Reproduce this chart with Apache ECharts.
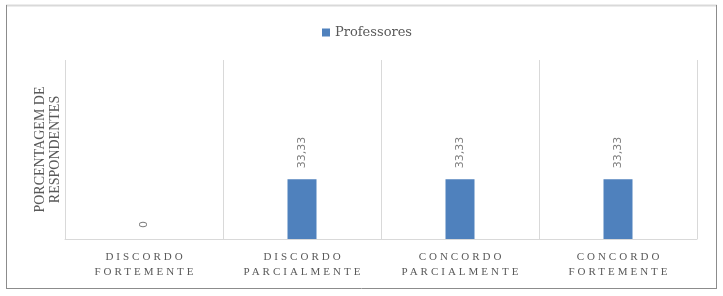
<!DOCTYPE html>
<html>
<head>
<meta charset="utf-8">
<script src="https://cdn.jsdelivr.net/npm/echarts@6/dist/echarts.min.js"></script>
<style>html,body{margin:0;padding:0;background:#fff}#c{width:723px;height:296px}</style>
</head>
<body>
<div id="c"></div>
<script>
var categories = ['DISCORDO\nFORTEMENTE', 'DISCORDO\nPARCIALMENTE', 'CONCORDO\nPARCIALMENTE', 'CONCORDO\nFORTEMENTE'];
var seriesName = 'Professores';
var professores = [0, 33.33, 33.33, 33.33];
var yAxisName = 'PORCENTAGEM DE\nRESPONDENTES';

// wide letter spacing for the category labels only (11px Liberation Serif)
(function () {
  var proto = CanvasRenderingContext2D.prototype;
  var orig = proto.fillText;
  proto.fillText = function (t, x, y, m) {
    var f = this.font || '';
    var spaced = f.indexOf('Liberation Serif') >= 0 && /(^|\s)11px/.test(f) && ('letterSpacing' in this);
    if (!spaced) {
      if ('letterSpacing' in this && this.letterSpacing !== '0px') { this.letterSpacing = '0px'; this.font = f; }
      return orig.apply(this, arguments);
    }
    this.save();
    this.letterSpacing = '3px';
    var dx = this.textAlign === 'center' ? 1.5 : 0;
    var r = (m === undefined) ? orig.call(this, t, x + dx, y) : orig.call(this, t, x + dx, y, m);
    this.restore();
    this.letterSpacing = '0px';
    this.font = f;
    return r;
  };
})();

var chart = echarts.init(document.getElementById('c'));
chart.setOption({
  animation: false,
  backgroundColor: '#fff',
  graphic: [
    {type: 'line', shape: {x1: 6, y1: 5.5, x2: 717, y2: 5.5}, style: {stroke: '#d9d9d9', lineWidth: 2}},
    {type: 'line', shape: {x1: 6.5, y1: 5, x2: 6.5, y2: 289}, style: {stroke: '#8c8c8c', lineWidth: 1}},
    {type: 'line', shape: {x1: 6, y1: 288.5, x2: 717, y2: 288.5}, style: {stroke: '#8c8c8c', lineWidth: 1}},
    {type: 'line', shape: {x1: 716.5, y1: 5, x2: 716.5, y2: 289}, style: {stroke: '#8c8c8c', lineWidth: 1}}
  ],
  legend: {
    data: [seriesName],
    left: 317,
    top: 21,
    itemWidth: 8,
    itemHeight: 8,
    itemGap: 5,
    icon: 'rect',
    textStyle: {fontFamily: 'DejaVu Serif', fontSize: 13, color: '#595959'}
  },
  grid: {left: 65, right: 26, top: 60, bottom: 57, containLabel: false},
  xAxis: {
    type: 'category',
    data: categories,
    axisLine: {show: true, lineStyle: {color: '#d9d9d9', width: 1}},
    axisTick: {show: false},
    splitLine: {show: true, lineStyle: {color: '#d9d9d9', width: 1}},
    axisLabel: {
      interval: 0,
      margin: 11,
      lineHeight: 15,
      fontFamily: 'Liberation Serif',
      fontSize: 11,
      color: '#595959'
    }
  },
  yAxis: {
    type: 'value',
    min: 0,
    max: 100,
    name: yAxisName,
    nameLocation: 'middle',
    nameRotate: 90,
    nameGap: 2,
    nameTextStyle: {fontFamily: 'Liberation Serif', fontSize: 14, color: '#595959', lineHeight: 15},
    axisLine: {show: false},
    axisTick: {show: false},
    axisLabel: {show: false},
    splitLine: {show: false}
  },
  series: [{
    name: seriesName,
    type: 'bar',
    data: professores,
    barWidth: 29,
    itemStyle: {color: '#4f81bd'},
    label: {
      show: true,
      position: 'top',
      rotate: 90,
      align: 'left',
      verticalAlign: 'middle',
      distance: 9,
      offset: [2, 0],
      fontFamily: 'DejaVu Sans',
      fontSize: 11,
      color: '#7f7f7f',
      formatter: function (p) { return p.value === 0 ? '0' : String(p.value).replace('.', ','); }
    }
  }]
});
</script>
</body>
</html>
